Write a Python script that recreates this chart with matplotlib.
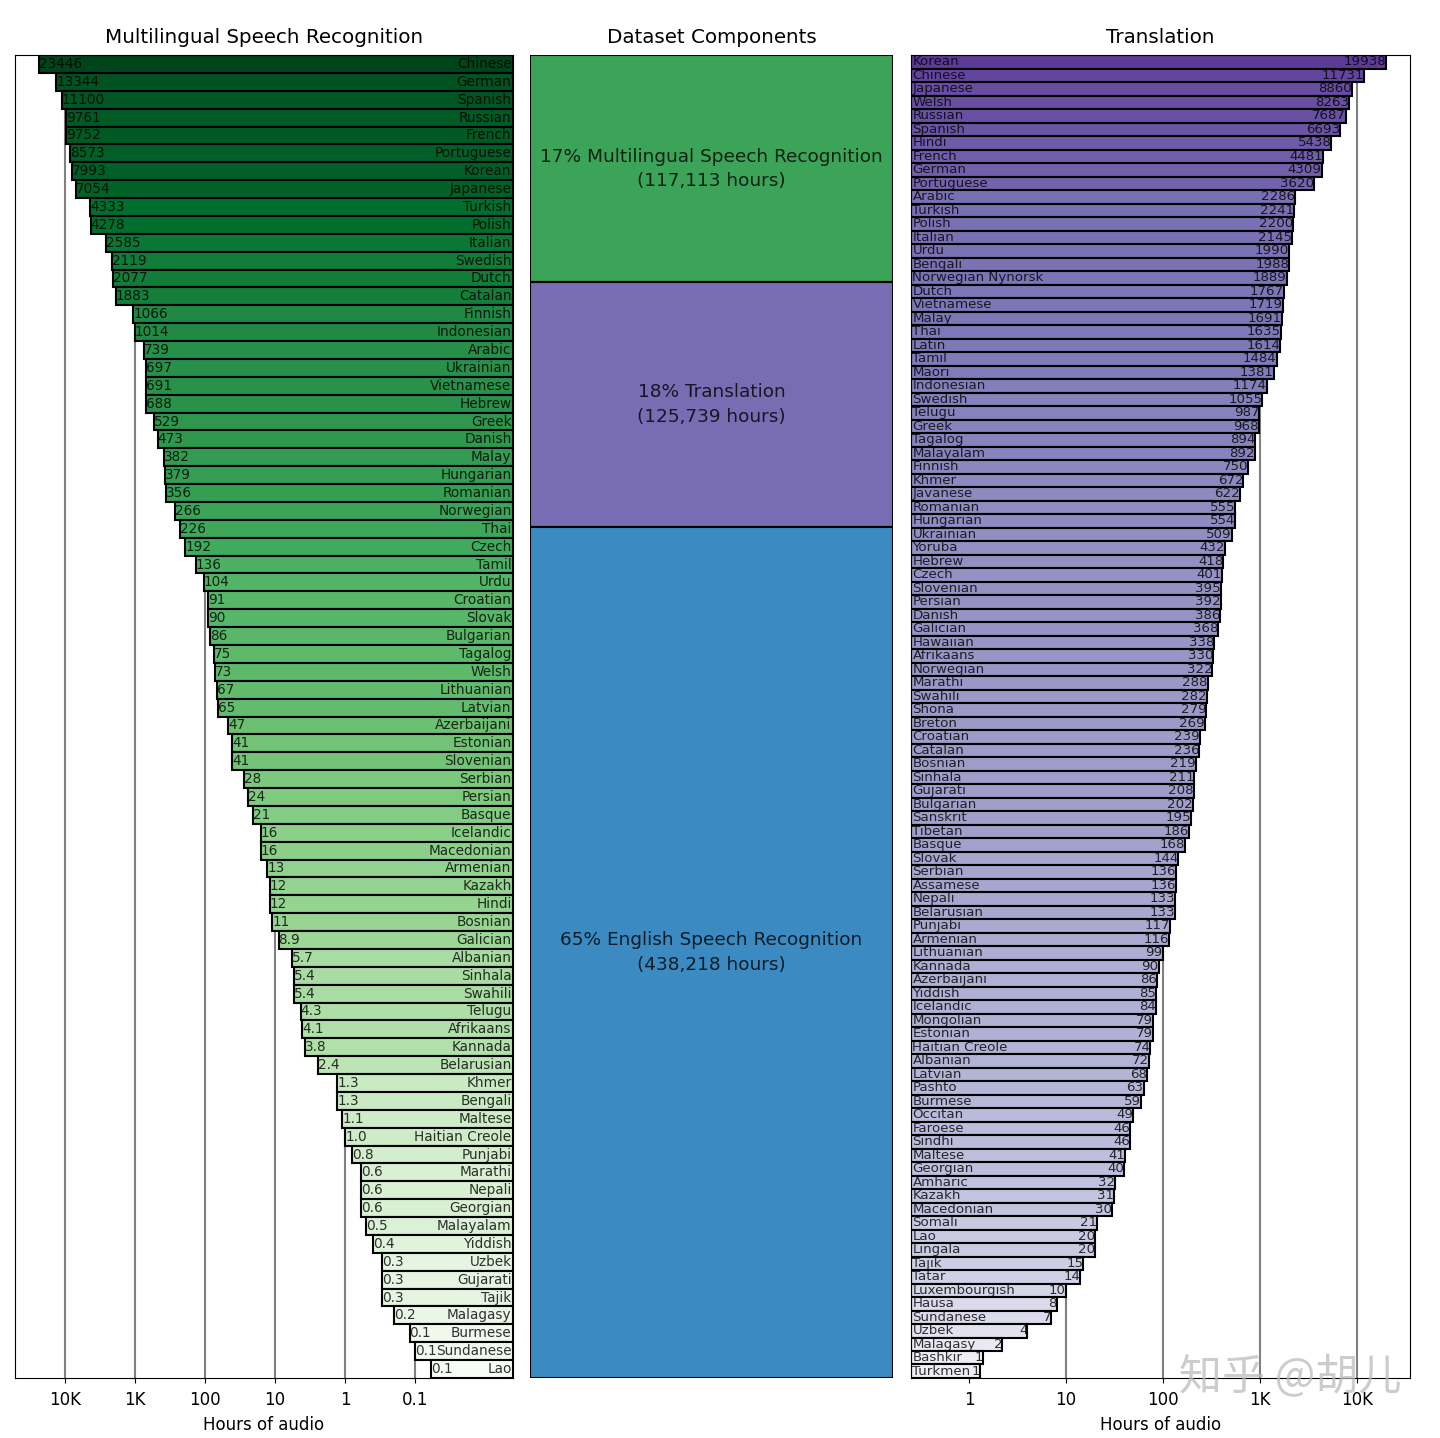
import matplotlib
matplotlib.use('Agg')
import matplotlib.pyplot as plt
import numpy as np

# hours of audio per language, multilingual speech recognition
asr_langs = ['Chinese', 'German', 'Spanish', 'Russian', 'French', 'Portuguese', 'Korean', 'Japanese',
             'Turkish', 'Polish', 'Italian', 'Swedish', 'Dutch', 'Catalan', 'Finnish', 'Indonesian',
             'Arabic', 'Ukrainian', 'Vietnamese', 'Hebrew', 'Greek', 'Danish', 'Malay', 'Hungarian',
             'Romanian', 'Norwegian', 'Thai', 'Czech', 'Tamil', 'Urdu', 'Croatian', 'Slovak',
             'Bulgarian', 'Tagalog', 'Welsh', 'Lithuanian', 'Latvian', 'Azerbaijani', 'Estonian',
             'Slovenian', 'Serbian', 'Persian', 'Basque', 'Icelandic', 'Macedonian', 'Armenian',
             'Kazakh', 'Hindi', 'Bosnian', 'Galician', 'Albanian', 'Sinhala', 'Swahili', 'Telugu',
             'Afrikaans', 'Kannada', 'Belarusian', 'Khmer', 'Bengali', 'Maltese', 'Haitian Creole',
             'Punjabi', 'Marathi', 'Nepali', 'Georgian', 'Malayalam', 'Yiddish', 'Uzbek', 'Gujarati',
             'Tajik', 'Malagasy', 'Burmese', 'Sundanese', 'Lao']
asr_hours = [23446, 13344, 11100, 9761, 9752, 8573, 7993, 7054, 4333, 4278, 2585, 2119, 2077, 1883,
             1066, 1014, 739, 697, 691, 688, 529, 473, 382, 379, 356, 266, 226, 192, 136, 104, 91, 90,
             86, 75, 73, 67, 65, 47, 41, 41, 28, 24, 21, 16, 16, 13, 12, 12, 11, 8.9, 5.7, 5.4, 5.4,
             4.3, 4.1, 3.8, 2.4, 1.3, 1.3, 1.1, 1.0, 0.8, 0.6, 0.6, 0.6, 0.5, 0.4, 0.3, 0.3, 0.3, 0.2,
             0.12, 0.1, 0.06]

# hours of audio per language, X -> English translation
tr_langs = ['Korean', 'Chinese', 'Japanese', 'Welsh', 'Russian', 'Spanish', 'Hindi', 'French', 'German',
            'Portuguese', 'Arabic', 'Turkish', 'Polish', 'Italian', 'Urdu', 'Bengali',
            'Norwegian Nynorsk', 'Dutch', 'Vietnamese', 'Malay', 'Thai', 'Latin', 'Tamil', 'Maori',
            'Indonesian', 'Swedish', 'Telugu', 'Greek', 'Tagalog', 'Malayalam', 'Finnish', 'Khmer',
            'Javanese', 'Romanian', 'Hungarian', 'Ukrainian', 'Yoruba', 'Hebrew', 'Czech', 'Slovenian',
            'Persian', 'Danish', 'Galician', 'Hawaiian', 'Afrikaans', 'Norwegian', 'Marathi', 'Swahili',
            'Shona', 'Breton', 'Croatian', 'Catalan', 'Bosnian', 'Sinhala', 'Gujarati', 'Bulgarian',
            'Sanskrit', 'Tibetan', 'Basque', 'Slovak', 'Serbian', 'Assamese', 'Nepali', 'Belarusian',
            'Punjabi', 'Armenian', 'Lithuanian', 'Kannada', 'Azerbaijani', 'Yiddish', 'Icelandic',
            'Mongolian', 'Estonian', 'Haitian Creole', 'Albanian', 'Latvian', 'Pashto', 'Burmese',
            'Occitan', 'Faroese', 'Sindhi', 'Maltese', 'Georgian', 'Amharic', 'Kazakh', 'Macedonian',
            'Somali', 'Lao', 'Lingala', 'Tajik', 'Tatar', 'Luxembourgish', 'Hausa', 'Sundanese',
            'Uzbek', 'Malagasy', 'Bashkir', 'Turkmen']
tr_hours = [19938, 11731, 8860, 8263, 7687, 6693, 5438, 4481, 4309, 3620, 2286, 2241, 2200, 2145, 1990,
            1988, 1889, 1767, 1719, 1691, 1635, 1614, 1484, 1381, 1174, 1055, 987, 968, 894, 892, 750,
            672, 622, 555, 554, 509, 432, 418, 401, 395, 392, 386, 368, 338, 330, 322, 288, 282, 279,
            269, 239, 236, 219, 211, 208, 202, 195, 186, 168, 144, 136, 136, 133, 133, 117, 116, 99, 90,
            86, 85, 84, 79, 79, 74, 72, 68, 63, 59, 49, 46, 46, 41, 40, 32, 31, 30, 21, 20, 20, 15, 14,
            10, 8, 7, 4, 2.2, 1.4, 1.3]

# dataset components
comp_names = ['Multilingual Speech Recognition', 'Translation', 'English Speech Recognition']
comp_hours = [117113, 125739, 438218]
comp_pct = [17, 18, 65]

W, H = 1440, 1438
fig = plt.figure(figsize=(W / 100, H / 100), dpi=100)

def box(x0, x1, y0=55, y1=1378):
    return [x0 / W, 1 - y1 / H, (x1 - x0) / W, (y1 - y0) / H]

lab_kw = dict(color='black', alpha=0.8)
bar_kw = dict(height=1.0, edgecolor='black', linewidth=1.5)

def style_axis(ax, ticks, ticklabels, title):
    ax.set_xticks(ticks)
    ax.set_xticklabels(ticklabels)
    ax.minorticks_off()
    ax.set_yticks([])
    ax.grid(axis='x', color='gray', linewidth=1.5)
    ax.set_axisbelow(True)
    ax.tick_params(labelsize=12, pad=6)
    ax.set_xlabel('Hours of audio', fontsize=12, labelpad=5)
    ax.set_title(title, fontsize=14.3, pad=9)

# ---- left: multilingual ASR
ax1 = fig.add_axes(box(15, 513))
v = np.array(asr_hours)
lo1 = 0.004
lv = np.log10(v)
c = plt.cm.Greens((lv - lv.min()) / (lv.max() - lv.min()))
y = np.arange(len(v))
ax1.barh(y, v - lo1, left=lo1, color=c, **bar_kw)
ax1.set_xscale('log')
ax1.set_xlim(51800, lo1)
ax1.set_ylim(len(v) - 0.5, -0.5)
for i in range(len(v)):
    s = f'{v[i]:.0f}' if v[i] >= 10 else f'{v[i]:.1f}'
    ax1.text(v[i], i, s, ha='left', va='center', fontsize=9.8, **lab_kw)
    ax1.text(0.997, i, asr_langs[i], ha='right', va='center', fontsize=9.8,
             transform=ax1.get_yaxis_transform(), **lab_kw)
style_axis(ax1, [1e4, 1e3, 1e2, 10, 1, 0.1], ['10K', '1K', '100', '10', '1', '0.1'],
           'Multilingual Speech Recognition')

# ---- middle: dataset components
ax2 = fig.add_axes(box(530, 893))
total = sum(comp_hours)
bottoms = np.cumsum([0] + comp_hours[:-1])
cols = [plt.cm.Greens(0.65), plt.cm.Purples(0.67), plt.cm.Blues(0.65)]
ax2.bar(0, comp_hours, bottom=bottoms, width=1.0, color=cols, edgecolor='black', linewidth=1.5)
for b, h, n, p in zip(bottoms, comp_hours, comp_names, comp_pct):
    ax2.text(0, b + h / 2, f'{p}% {n}\n({h:,} hours)', ha='center', va='center',
             fontsize=13.3, linespacing=1.45, **lab_kw)
ax2.set_xlim(-0.5, 0.5)
ax2.set_ylim(total, 0)
ax2.axis('off')
ax2.set_title('Dataset Components', fontsize=14.3, pad=9)

# ---- right: translation
ax3 = fig.add_axes(box(911, 1410))
v = np.array(tr_hours)
lo3 = 0.252
lv = np.log10(v)
c = plt.cm.Purples(0.12 + 0.7 * (lv - lv.min()) / (lv.max() - lv.min()))
y = np.arange(len(v))
ax3.barh(y, v - lo3, left=lo3, color=c, **bar_kw)
ax3.set_xscale('log')
ax3.set_xlim(lo3, 35170)
ax3.set_ylim(len(v) - 0.5, -0.5)
for i in range(len(v)):
    ax3.text(v[i], i, f'{v[i]:.0f}', ha='right', va='center', fontsize=9.6, **lab_kw)
    ax3.text(0.003, i, tr_langs[i], ha='left', va='center', fontsize=9.6,
             transform=ax3.get_yaxis_transform(), **lab_kw)
style_axis(ax3, [1, 10, 100, 1e3, 1e4], ['1', '10', '100', '1K', '10K'], 'Translation')

# watermark
fig.text(1290 / W, 1 - 1378 / H, '知乎 @胡儿', ha='center', va='center', fontsize=31,
         color='#bbbbbb', alpha=0.75, family=['Noto Sans CJK SC', 'DejaVu Sans'])

fig.savefig('out.png', dpi=100)
